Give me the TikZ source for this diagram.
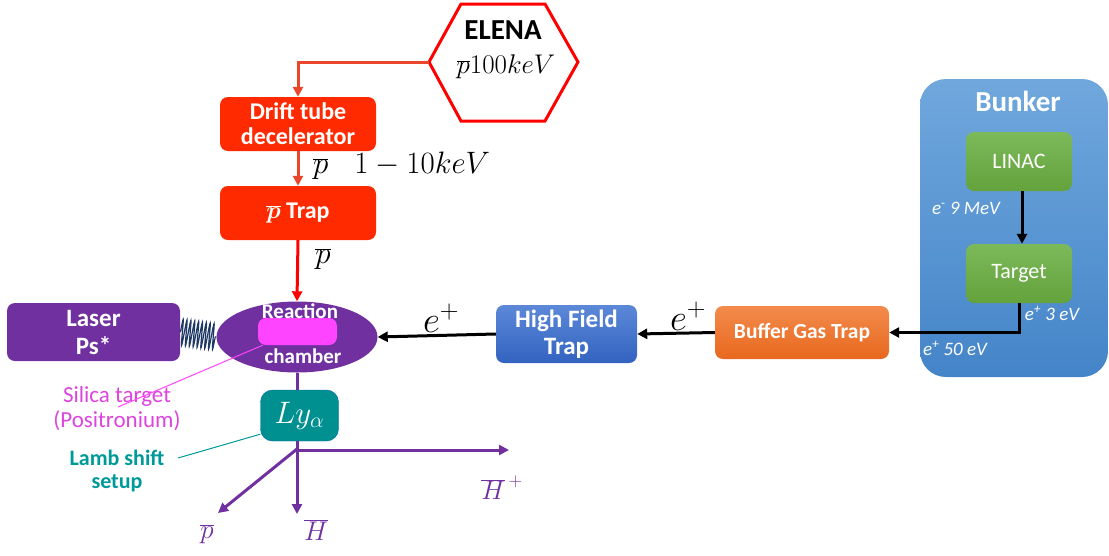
\RequirePackage{fix-cm}
\documentclass[tikz,border=0pt]{standalone}
\usepackage[no-math]{fontspec}
\setmainfont{Carlito}
\usepackage{bm}
\usetikzlibrary{shapes.geometric,arrows.meta,decorations.pathmorphing,calc}
\definecolor{boxred}{HTML}{FF2A00}
\definecolor{linkred}{HTML}{E8472C}
\definecolor{purp}{HTML}{7030A0}
\definecolor{magen}{HTML}{FF44FF}
\definecolor{silica}{HTML}{DD44DD}
\definecolor{tealbox}{HTML}{009090}
\definecolor{lambtxt}{HTML}{009999}
\definecolor{navy}{HTML}{1F3864}
\definecolor{greentop}{RGB}{124,185,90}
\definecolor{greenbot}{RGB}{100,162,60}
\definecolor{bluetop}{RGB}{92,136,216}
\definecolor{bluebot}{RGB}{50,99,192}
\definecolor{orangetop}{RGB}{243,139,76}
\definecolor{orangebot}{RGB}{232,104,30}
\definecolor{bunkertop}{RGB}{112,168,221}
\definecolor{bunkerbot}{RGB}{68,132,200}
\tikzset{
  rbox/.style={draw=none, rounded corners=8pt, minimum width=156pt, minimum height=54pt,
    inner sep=0pt, align=center, text=white, font=\fontsize{24}{25}\selectfont\bfseries, fill=boxred},
  gbox/.style={draw=none, rounded corners=8pt, minimum width=106pt, minimum height=59pt,
    inner sep=0pt, align=center, text=white, font=\fontsize{22}{24}\selectfont,
    top color=greentop, bottom color=greenbot},
  ptr/.style={line width=3pt, -{Triangle[length=10pt,width=10pt]}},
  elbl/.style={text=white, font=\fontsize{19}{21}\selectfont\itshape, inner sep=0pt},
  mlbl/.style={font=\fontsize{31}{33}\selectfont},
}
\begin{document}
\begin{tikzpicture}[x=1pt,y=-1pt]
\useasboundingbox (0,0) rectangle (1109,555);
% ELENA hexagon
\draw[red, line width=3pt, line join=miter]
  (429,62) coordinate (elenaL) -- (461,4) -- (545,4) -- (578,62) -- (545,121) -- (461,121) -- cycle;
\node[font=\fontsize{29}{30}\selectfont\bfseries] (elena) at (503,30) {ELENA};
\node[font=\fontsize{27}{30}\selectfont] (elenaE) at (506,67) {$\overline{p}100keV$};
% red boxes
\node[rbox] (drift) at (298,124) {Drift tube\\decelerator};
\node[rbox] (trap) at (298,213) {$\overline{\bm p}$ Trap};
\draw[linkred, ptr] (elenaL) -| (drift.north);
\draw[linkred, ptr] (drift.south) -- (trap.north);
\node[mlbl, anchor=west, inner sep=0pt] (lbl1) at (313,166) {$\overline{p}\;\;\;1-10keV$};
% reaction chamber
\node[ellipse, fill=purp, minimum width=161pt, minimum height=71pt, inner sep=0pt] (chamber) at (297,337) {};
\draw[red, ptr] (trap.south) -- (chamber.north);
\node[mlbl] (lbl2) at (323,259) {$\overline{p}$};
\node[fill=magen, rounded corners=8pt, minimum width=79pt, minimum height=27pt, inner sep=0pt] (mag) at (297.5,331.5) {};
\node[text=white, font=\fontsize{21}{22}\selectfont\bfseries] (reac) at (300,311) {Reaction};
\node[text=white, font=\fontsize{21}{22}\selectfont\bfseries] (chamb) at (303,356) {chamber};
% laser
\node[rbox, fill=purp, minimum width=173pt, minimum height=58pt, font=\fontsize{25}{28}\selectfont\bfseries] (laser) at (93.5,332) {Laser\\Ps*};
\draw[navy, line width=1.2pt, decorate, decoration={snake, segment length=3.9pt, amplitude=13pt}] (laser.east) -- (chamber.west);
% silica target
\node[text=silica, align=center, font=\fontsize{23}{25}\selectfont] (silt) at (117,409) {Silica target\\(Positronium)};
\coordinate (silS) at (118,407);
\draw[magen, line width=1pt] (silS) -- ([xshift=5pt]mag.south west);
% Ly alpha
\node[fill=tealbox, draw=tealbox!70!blue, rounded corners=12pt, minimum width=78pt, minimum height=51pt, inner sep=0pt, text=white, font=\fontsize{31}{32}\selectfont] (ly) at (299.5,415.5) {$Ly_\alpha$};
\draw[purp, line width=3pt] (chamber.south) -- (ly.north -| chamber.south);
\node[text=lambtxt, align=center, font=\fontsize{22}{23}\selectfont\bfseries] (lamb) at (117,471) {Lamb shift\\setup};
\coordinate (lambS) at (178,458);
\draw[lambtxt, line width=1pt] (lambS) -- ([yshift=7pt]ly.south west);
% outputs
\coordinate (split) at (297,450);
\coordinate (hend) at (297,514);
\coordinate (hpend) at (509,450);
\coordinate (pend) at (218,513);
\draw[purp, line width=3pt] (ly.south -| split) -- (split);
\draw[purp, ptr] (split) -- (hend);
\draw[purp, ptr] (split) -- (hpend);
\draw[purp, ptr] ([yshift=1pt]split) -- (pend);
\node[text=purp, font=\fontsize{27}{30}\selectfont] (hplus) at (502,488) {$\overline{H}^{\,+}$};
\node[text=purp, font=\fontsize{27}{30}\selectfont] (pbar) at (207,534) {$\overline{p}$};
\node[text=purp, font=\fontsize{27}{30}\selectfont] (hbar) at (316,530) {$\overline{H}$};
% positron line
\node[rbox, minimum width=141pt, minimum height=58pt, fill=none, top color=bluetop, bottom color=bluebot, font=\fontsize{25}{27}\selectfont\bfseries] (hft) at (566.5,334) {High Field\\Trap};
\node[rbox, minimum width=174pt, minimum height=53pt, fill=none, top color=orangetop, bottom color=orangebot, font=\fontsize{21.5}{23}\selectfont\bfseries] (bgt) at (802,332.5) {Buffer Gas Trap};
\draw[black, ptr] (hft.west) -- (chamber.east);
\draw[black, ptr] (bgt.west) -- (hft.east);
\node[font=\fontsize{37}{38}\selectfont] (ep1) at (441,318) {$e^+$};
\node[font=\fontsize{37}{38}\selectfont] (ep2) at (688,316) {$e^+$};
% bunker
\node[draw=none, rounded corners=26pt, minimum width=188pt, minimum height=298pt, inner sep=0pt,
  top color=bunkertop, bottom color=bunkerbot] (bunker) at (1014,228) {};
\node[text=white, font=\fontsize{29}{30}\selectfont\bfseries] (bunkt) at (1018,101) {Bunker};
\node[gbox] (linac) at (1019,161.5) {LINAC};
\node[gbox] (target) at (1019,273.5) {Target};
\draw[black, ptr] ([xshift=3pt]linac.south) -- ([xshift=3pt]target.north);
\draw[black, ptr] (target.south) |- (bgt.east);
\node[elbl] (e9) at (966,208) {e\textsuperscript{-} 9 MeV};
\node[elbl] (e3) at (1052,313) {e\textsuperscript{+} 3 eV};
\node[elbl] (e50) at (955,348) {e\textsuperscript{+} 50 eV};
\end{tikzpicture}
\end{document}
